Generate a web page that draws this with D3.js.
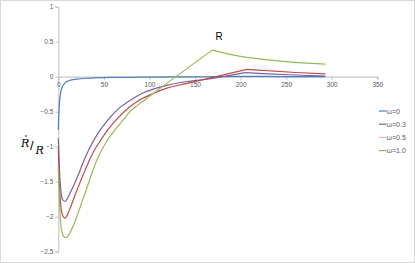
<!DOCTYPE html>
<html>
<head>
<meta charset="utf-8">
<script src="https://cdn.jsdelivr.net/npm/d3@7"></script>
<style>
  html, body { margin: 0; padding: 0; background: #fff; }
  svg { display: block; font-family: "Liberation Sans", Arial, sans-serif; }
</style>
</head>
<body>
<svg id="chart"></svg>
<script>
// series data (x = time, y = Rdot/R)
const seriesNames = ["\u03c9=0", "\u03c9=0.3", "\u03c9=0.5", "\u03c9=1.0"];

const xOmega0 = [0, 0.5, 1, 2, 3, 5, 8, 12, 20, 35, 60, 100, 150, 205, 250, 293];
const yOmega0 = [-0.76, -0.55, -0.42, -0.28, -0.2, -0.13, -0.08, -0.055, -0.035, -0.02, -0.01, -0.005, -0.002, 0.006, 0.002, 0.0];

const xOmega03 = [0, 1, 2, 3, 4, 5.5, 7.4, 10, 13, 17, 22, 28, 34, 38.4, 45, 55, 65, 78.6, 90, 106, 120, 140, 161, 205, 230, 260, 293];
const yOmega03 = [-0.88, -1.25, -1.5, -1.65, -1.73, -1.77, -1.78, -1.74, -1.66, -1.55, -1.4, -1.2, -1.03, -0.92, -0.78, -0.61, -0.47, -0.34, -0.25, -0.17, -0.12, -0.072, -0.04, 0.057, 0.04, 0.024, 0.01];

const xOmega05 = [0, 1, 2, 3, 4.5, 6, 7.5, 10, 13, 17, 22, 28, 35, 40, 46.9, 54.2, 64, 78.6, 89.6, 106, 120, 140, 207, 230, 260, 293];
const yOmega05 = [-1.02, -1.45, -1.72, -1.87, -1.97, -2.01, -2.02, -1.97, -1.88, -1.74, -1.57, -1.38, -1.17, -1.04, -0.9, -0.76, -0.61, -0.43, -0.33, -0.23, -0.16, -0.1, 0.105, 0.085, 0.06, 0.04];

const xOmega10 = [0, 1, 2, 3, 4.5, 6.5, 8.5, 11, 14, 18, 23, 29, 35, 42, 48, 54.2, 62.2, 71, 78.6, 87, 95, 169, 200, 230, 260, 293];
const yOmega10 = [-1.29, -1.7, -1.98, -2.14, -2.24, -2.29, -2.3, -2.27, -2.2, -2.08, -1.9, -1.68, -1.45, -1.2, -1.04, -0.9, -0.76, -0.62, -0.5, -0.41, -0.33, 0.38, 0.29, 0.24, 0.205, 0.18];

const xTicks = [0, 50, 100, 150, 200, 250, 300, 350];
const yTicks = [1, 0.5, 0, -0.5, -1, -1.5, -2, -2.5];

const lineColors = ["#4a7ebb", "#7d5fa0", "#be4b48", "#98b954"];
const legendColors = ["#4a7ebb", "#7d5fa0", "#e6b9b8", "#98b954"];

const W = 415, H = 263;
const svg = d3.select("#chart").attr("width", W).attr("height", H);

// chart area border
svg.append("rect")
  .attr("x", 0.5).attr("y", 0.5)
  .attr("width", W - 1).attr("height", H - 1)
  .attr("fill", "#fff")
  .attr("stroke", "#d9d9d9");

const x = d3.scaleLinear().domain([0, 350]).range([58.3, 377.3]);
const y = d3.scaleLinear().domain([-2.5, 1]).range([251.7, 6.7]);

// y axis
const yAxis = svg.append("g")
  .attr("transform", "translate(" + x(0) + ",0)")
  .call(d3.axisLeft(y).tickValues(yTicks).tickSize(3).tickPadding(2).tickFormat(d3.format("")));
yAxis.select(".domain").attr("stroke", "#bfbfbf");
yAxis.selectAll(".tick line").attr("stroke", "#bfbfbf");
yAxis.selectAll(".tick text").attr("fill", "#595959").style("font-size", "6.5px");

// x axis along zero
const xAxis = svg.append("g")
  .attr("transform", "translate(0," + y(0) + ")")
  .call(d3.axisBottom(x).tickValues(xTicks).tickSize(3).tickPadding(3).tickFormat(d3.format("")));
xAxis.select(".domain").attr("stroke", "#c8c8c8").attr("stroke-width", 1.2);
xAxis.selectAll(".tick line").attr("stroke", "#bfbfbf");
xAxis.selectAll(".tick text").attr("fill", "#595959").style("font-size", "6.5px");

// series
const allX = [xOmega0, xOmega03, xOmega05, xOmega10];
const allY = [yOmega0, yOmega03, yOmega05, yOmega10];

const line = d3.line()
  .x(d => x(d[0]))
  .y(d => y(d[1]))
  .curve(d3.curveMonotoneX);

allX.forEach((xs, i) => {
  const pts = xs.map((v, j) => [v, allY[i][j]]);
  // split at the peak so the kink stays sharp
  const k = d3.maxIndex(pts, d => d[1]);
  [pts.slice(0, k + 1), pts.slice(k)].forEach(seg => {
    svg.append("path")
      .datum(seg)
      .attr("fill", "none")
      .attr("stroke", lineColors[i])
      .attr("stroke-width", 1.2)
      .attr("d", line);
  });
});

// title
svg.append("text")
  .attr("x", 219).attr("y", 40)
  .attr("text-anchor", "middle")
  .style("font-size", "10px")
  .attr("fill", "#000")
  .text("R");

// y axis label  R-dot / R
const yl = svg.append("g").attr("fill", "#000").style("font-family", "'DejaVu Serif', serif").style("font-style", "italic");
yl.append("text").attr("x", 21).attr("y", 147).style("font-size", "11px").text("R");
yl.append("circle").attr("cx", 26).attr("cy", 136).attr("r", 0.8);
yl.append("text").attr("x", 30).attr("y", 150).style("font-size", "13px").style("font-style", "normal").style("font-family", "'Liberation Sans', sans-serif").text("/");
yl.append("text").attr("x", 35.5).attr("y", 154).style("font-size", "11px").text("R");

// legend
const legend = svg.append("g");
seriesNames.forEach((name, i) => {
  const ly = 111 + i * 13.2;
  legend.append("line")
    .attr("x1", 379).attr("x2", 386.5)
    .attr("y1", ly).attr("y2", ly)
    .attr("stroke", legendColors[i])
    .attr("stroke-width", 1.2);
  legend.append("text")
    .attr("x", 386.5).attr("y", ly + 2.5)
    .attr("fill", "#595959")
    .style("font-size", "7px")
    .text(name);
});
</script>
</body>
</html>
